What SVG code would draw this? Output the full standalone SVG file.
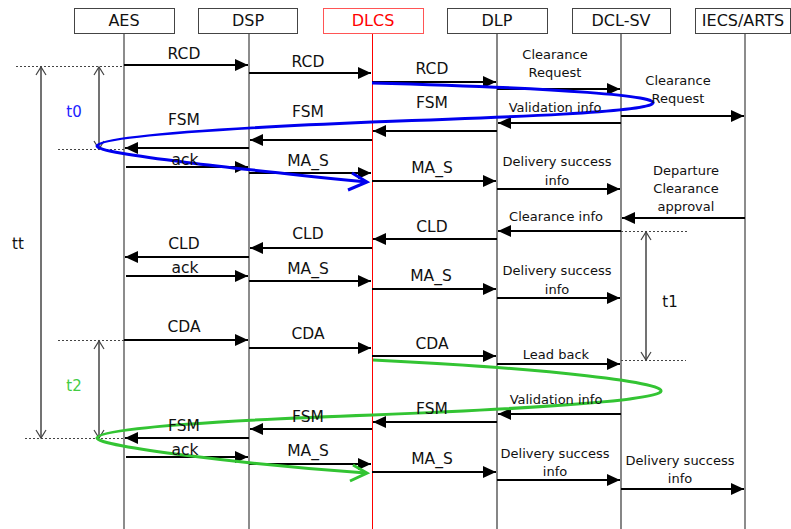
<svg xmlns="http://www.w3.org/2000/svg" width="791" height="529" viewBox="0 0 791 529">
<style>
.box{fill:#fff;stroke:#444;stroke-width:1}
.hd{font-family:"DejaVu Sans",Verdana,sans-serif;font-size:16px;text-anchor:middle;fill:#111}
.ll{stroke:#666;stroke-width:1.5}
.lld{stroke:#222;stroke-width:1.1}
.msg{stroke:#000;stroke-width:2;fill:none;marker-end:url(#ah)}
.lb{font-family:"DejaVu Sans",Verdana,sans-serif;font-size:15.5px;text-anchor:middle;fill:#111}
.sm{font-family:"DejaVu Sans",Verdana,sans-serif;font-size:13px;text-anchor:middle;fill:#111}
.dash{stroke:#444;stroke-width:1;stroke-dasharray:2 2;fill:none}
.tm{stroke:#444;stroke-width:1.5;fill:none;marker-start:url(#ch);marker-end:url(#ch)}
.tl{font-family:"DejaVu Sans",Verdana,sans-serif;font-size:15px;text-anchor:middle}
</style>
<defs>
<marker id="ah" markerUnits="userSpaceOnUse" markerWidth="13" markerHeight="12" viewBox="0 0 13 12" refX="13" refY="6" orient="auto">
<path d="M0,0 L13,6 L0,12 z" fill="#000"/>
</marker>
<marker id="ch" markerUnits="userSpaceOnUse" markerWidth="12" markerHeight="12" viewBox="-10 -6 12 12" refX="0" refY="0" orient="auto-start-reverse">
<path d="M-8,-5 L0,0 L-8,5" fill="none" stroke="#444" stroke-width="1.2"/>
</marker>
</defs>
<rect width="791" height="529" fill="#fff"/>

<g id="AES">
<line class="ll" x1="124" y1="33" x2="124" y2="529"/>
<rect class="box" x="74.5" y="8.5" width="100" height="25"/>
<text class="hd" x="124" y="26">AES</text>
</g>
<g id="DSP">
<line class="ll" x1="249" y1="33" x2="249" y2="529"/>
<rect class="box" x="198.5" y="8.5" width="99" height="25"/>
<text class="hd" x="248" y="26">DSP</text>
</g>
<g id="DLCS">
<line x1="372.5" y1="33" x2="372.5" y2="529" stroke="#f00" stroke-width="1"/>
<rect x="323.5" y="8.5" width="100" height="25" fill="#fff" stroke="#f55" stroke-width="1"/>
<text class="hd" x="373" y="26" fill="#f00" style="fill:#f00">DLCS</text>
</g>
<g id="DLP">
<line class="lld" x1="497" y1="33" x2="497" y2="529"/>
<rect class="box" x="447.5" y="8.5" width="100" height="25"/>
<text class="hd" x="497" y="26">DLP</text>
</g>
<g id="DCL-SV">
<line class="lld" x1="621" y1="33" x2="621" y2="529"/>
<rect class="box" x="572.5" y="8.5" width="98" height="25"/>
<text class="hd" x="621" y="26">DCL-SV</text>
</g>
<g id="IECS-ARTS">
<line class="ll" x1="745" y1="33" x2="745" y2="529"/>
<rect class="box" x="695.5" y="8.5" width="95" height="25"/>
<text class="hd" x="743" y="26">IECS/ARTS</text>
</g>

<g id="connectors">
<line class="msg" x1="124" y1="65" x2="248" y2="65"/>
<line class="msg" x1="249" y1="73" x2="371" y2="73"/>
<line class="msg" x1="372" y1="82" x2="496" y2="82"/>
<line class="msg" x1="497" y1="89" x2="620" y2="89"/>
<line class="msg" x1="621" y1="116" x2="744" y2="116"/>
<line class="msg" x1="621" y1="123" x2="498" y2="123"/>
<line class="msg" x1="497" y1="131" x2="373" y2="131"/>
<line class="msg" x1="372" y1="140" x2="250" y2="140"/>
<line class="msg" x1="249" y1="148" x2="125" y2="148"/>
<line class="msg" x1="126" y1="167" x2="248" y2="167"/>
<line class="msg" x1="249" y1="173" x2="371" y2="173"/>
<line class="msg" x1="372" y1="181" x2="496" y2="181"/>
<line class="msg" x1="497" y1="189" x2="620" y2="189"/>
<line class="msg" x1="745" y1="218" x2="622" y2="218"/>
<line class="msg" x1="621" y1="231" x2="498" y2="231"/>
<line class="msg" x1="497" y1="239" x2="373" y2="239"/>
<line class="msg" x1="372" y1="248" x2="250" y2="248"/>
<line class="msg" x1="249" y1="257" x2="125" y2="257"/>
<line class="msg" x1="126" y1="276" x2="248" y2="276"/>
<line class="msg" x1="249" y1="281" x2="371" y2="281"/>
<line class="msg" x1="372" y1="289" x2="496" y2="289"/>
<line class="msg" x1="497" y1="298" x2="620" y2="298"/>
<line class="msg" x1="124" y1="340" x2="248" y2="340"/>
<line class="msg" x1="249" y1="348" x2="371" y2="348"/>
<line class="msg" x1="372" y1="356" x2="496" y2="356"/>
<line class="msg" x1="497" y1="364" x2="620" y2="364"/>
<line class="msg" x1="621" y1="414" x2="498" y2="414"/>
<line class="msg" x1="497" y1="422" x2="373" y2="422"/>
<line class="msg" x1="372" y1="429" x2="250" y2="429"/>
<line class="msg" x1="249" y1="438" x2="125" y2="438"/>
<line class="msg" x1="126" y1="457" x2="248" y2="457"/>
<line class="msg" x1="249" y1="464" x2="371" y2="464"/>
<line class="msg" x1="372" y1="472" x2="496" y2="472"/>
<line class="msg" x1="497" y1="480" x2="620" y2="480"/>
<line class="msg" x1="621" y1="489" x2="744" y2="489"/>

<!-- time measures -->
<line class="dash" x1="16" y1="66.5" x2="124" y2="66.5"/>
<line class="dash" x1="58" y1="149.5" x2="124" y2="149.5"/>
<line class="dash" x1="58" y1="340.5" x2="124" y2="340.5"/>
<line class="dash" x1="25" y1="438.5" x2="124" y2="438.5"/>
<line class="dash" x1="621" y1="231.5" x2="687" y2="231.5"/>
<line class="dash" x1="621" y1="360.5" x2="686" y2="360.5"/>
<line class="tm" x1="41" y1="67" x2="41" y2="438"/>
<line class="tm" x1="99" y1="67" x2="99" y2="149"/>
<line class="tm" x1="99" y1="341" x2="99" y2="438"/>
<line class="tm" x1="646" y1="232" x2="646" y2="360"/>

<!-- flow curves -->
<path d="M372,83 C560,88 665,96 652,104 C640,112 520,117 372,122 C230,128 100,136 97,146 C95,154 250,170 366,182" fill="none" stroke="#0000ee" stroke-width="3"/>
<polyline points="352,173 367,182 348,190" fill="none" stroke="#0000ee" stroke-width="3"/>
<path d="M373,360 C540,368 680,383 659,393 C640,402 500,410 373,415 C230,420 100,428 97,438 C95,446 250,465 366,473" fill="none" stroke="#33c433" stroke-width="3"/>
<polyline points="353,465 367,473 350,481" fill="none" stroke="#33c433" stroke-width="3"/>
</g>

<g id="labels">
<text class="lb" x="184" y="59">RCD</text>
<text class="lb" x="308" y="67">RCD</text>
<text class="lb" x="432" y="74">RCD</text>
<text class="sm" x="555" y="59">Clearance</text>
<text class="sm" x="555" y="77">Request</text>
<text class="sm" x="678" y="85">Clearance</text>
<text class="sm" x="678" y="103">Request</text>
<text class="sm" x="555" y="112">Validation info</text>
<text class="lb" x="432" y="108">FSM</text>
<text class="lb" x="308" y="117">FSM</text>
<text class="lb" x="184" y="125">FSM</text>
<text class="lb" x="185" y="165">ack</text>
<text class="lb" x="308" y="166">MA_S</text>
<text class="lb" x="432" y="173">MA_S</text>
<text class="sm" x="557" y="166">Delivery success</text>
<text class="sm" x="557" y="185">info</text>
<text class="sm" x="686" y="175">Departure</text>
<text class="sm" x="686" y="193">Clearance</text>
<text class="sm" x="686" y="211">approval</text>
<text class="sm" x="556" y="221">Clearance info</text>
<text class="lb" x="432" y="232">CLD</text>
<text class="lb" x="308" y="239">CLD</text>
<text class="lb" x="184" y="249">CLD</text>
<text class="lb" x="185" y="273">ack</text>
<text class="lb" x="308" y="274">MA_S</text>
<text class="lb" x="431" y="281">MA_S</text>
<text class="sm" x="557" y="275">Delivery success</text>
<text class="sm" x="557" y="294">info</text>
<text class="lb" x="184" y="332">CDA</text>
<text class="lb" x="308" y="339">CDA</text>
<text class="lb" x="432" y="349">CDA</text>
<text class="sm" x="556" y="359">Lead back</text>
<text class="sm" x="556" y="404">Validation info</text>
<text class="lb" x="432" y="414">FSM</text>
<text class="lb" x="308" y="422">FSM</text>
<text class="lb" x="184" y="431">FSM</text>
<text class="lb" x="185" y="455">ack</text>
<text class="lb" x="308" y="456">MA_S</text>
<text class="lb" x="432" y="464">MA_S</text>
<text class="sm" x="555" y="458">Delivery success</text>
<text class="sm" x="555" y="476">info</text>
<text class="sm" x="680" y="465">Delivery success</text>
<text class="sm" x="680" y="483">info</text>
<text class="tl" x="74" y="117" fill="#2222ff">t0</text>
<text class="tl" x="18" y="249" fill="#111">tt</text>
<text class="tl" x="670" y="307" fill="#111">t1</text>
<text class="tl" x="74" y="391" fill="#44cc44">t2</text>
</g>
</svg>
